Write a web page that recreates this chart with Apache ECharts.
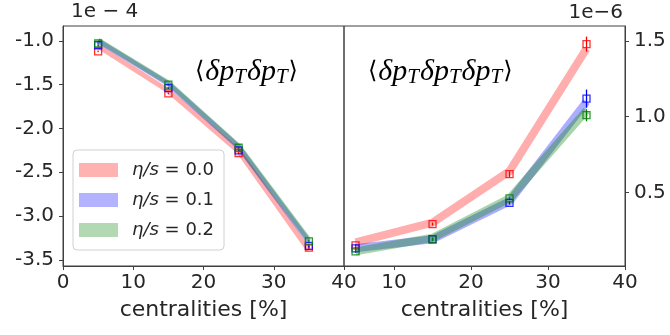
<!DOCTYPE html>
<html><head><meta charset="utf-8">
<script src="https://cdn.jsdelivr.net/npm/echarts@6/dist/echarts.min.js"></script>
<style>html,body{margin:0;padding:0;background:#fff}#c{width:670px;height:335px}</style>
</head><body><div id="c"></div>
<script>
// ---- data ----
const centralities = [5, 15, 25, 35];
const seriesNames = ['η/s = 0.0', 'η/s = 0.1', 'η/s = 0.2'];
const xTicksLeft = [0, 10, 20, 30, 40];
const xTicksRight = [10, 20, 30, 40];
const yTicksLeft = [-3.5, -3.0, -2.5, -2.0, -1.5, -1.0];
const yTicksRight = [0.5, 1.0, 1.5];

// left panel <dpT dpT>, units 1e-4
const leftPoints0 = [-1.12, -1.60, -2.28, -3.36];
const leftPoints1 = [-1.05, -1.54, -2.25, -3.34];
const leftPoints2 = [-1.03, -1.50, -2.22, -3.29];
const leftErr0 = [0.01, 0.01, 0.01, 0.02];
const leftErr1 = [0.01, 0.01, 0.01, 0.02];
const leftErr2 = [0.01, 0.01, 0.01, 0.02];
const leftBand0 = [-1.06, -1.57, -2.26, -3.39];
const leftBand1 = [-1.00, -1.49, -2.21, -3.29];
const leftBand2 = [-0.99, -1.48, -2.20, -3.27];

// right panel <dpT dpT dpT>, units 1e-6
const rightPoints0 = [0.15, 0.29, 0.62, 1.48];
const rightPoints1 = [0.13, 0.19, 0.43, 1.12];
const rightPoints2 = [0.11, 0.19, 0.46, 1.01];
const rightErr0 = [0.01, 0.01, 0.02, 0.05];
const rightErr1 = [0.01, 0.01, 0.01, 0.06];
const rightErr2 = [0.01, 0.01, 0.01, 0.04];
const rightBand0 = [0.17, 0.30, 0.64, 1.45];
const rightBand1 = [0.13, 0.19, 0.44, 1.10];
const rightBand2 = [0.11, 0.20, 0.46, 1.04];

// ---- style ----
const lineColors = ['#ff0000', '#0000ff', '#008000'];
const bandColors = ['rgba(255,0,0,0.32)', 'rgba(0,0,255,0.32)', 'rgba(0,128,0,0.34)'];
const legendColors = ['rgba(255,0,0,0.3)', 'rgba(0,0,255,0.3)', 'rgba(0,128,0,0.3)'];
const textColor = '#262626';
const axisColor = '#404040';

const chart = echarts.init(document.getElementById('c'), null, {renderer: 'canvas'});

function zip(xs, ys) { return xs.map((x, i) => [x, ys[i]]); }
function errData(xs, ys, es) { return xs.map((x, i) => [x, ys[i] - es[i], ys[i] + es[i]]); }

const series = [];
function addPanel(idx, bands, points, errs, bandWidth) {
  for (let k = 0; k < 3; k++) {
    series.push({
      name: seriesNames[k], type: 'line', xAxisIndex: idx, yAxisIndex: idx,
      data: zip(centralities, bands[k]), symbol: 'none', silent: true,
      lineStyle: {color: bandColors[k], width: bandWidth, join: 'round', cap: 'butt'},
      itemStyle: {color: legendColors[k]}, z: 2
    });
  }
  for (let k = 0; k < 3; k++) {
    series.push({
      name: 'err' + idx + k, type: 'custom', xAxisIndex: idx, yAxisIndex: idx,
      data: errData(centralities, points[k], errs[k]), silent: true, z: 3,
      renderItem: function (params, api) {
        const p1 = api.coord([api.value(0), api.value(1)]);
        const p2 = api.coord([api.value(0), api.value(2)]);
        return {type: 'line', shape: {x1: p1[0], y1: p1[1], x2: p2[0], y2: p2[1]},
          style: {stroke: lineColors[k], lineWidth: 1.3}};
      }
    });
    series.push({
      name: 'pts' + idx + k, type: 'scatter', xAxisIndex: idx, yAxisIndex: idx,
      data: zip(centralities, points[k]), symbol: 'rect', symbolSize: 7, silent: true, z: 4,
      itemStyle: {color: 'rgba(255,255,255,0)', borderColor: lineColors[k], borderWidth: 1.3}
    });
  }
}
addPanel(0, [leftBand0, leftBand1, leftBand2], [leftPoints0, leftPoints1, leftPoints2], [leftErr0, leftErr1, leftErr2], 5);
addPanel(1, [rightBand0, rightBand1, rightBand2], [rightPoints0, rightPoints1, rightPoints2], [rightErr0, rightErr1, rightErr2], 8);

const labelFont = {fontFamily: 'DejaVu Sans', fontSize: 20, color: textColor};
function xAxis(idx, min, ticks) {
  return {
    gridIndex: idx, type: 'value', min: min, max: 40,
    axisLine: {show: true, onZero: false, lineStyle: {color: axisColor, width: 1}},
    axisTick: {show: true, inside: false, length: 4, customValues: ticks, lineStyle: {color: axisColor}},
    axisLabel: Object.assign({margin: 7, customValues: ticks, formatter: v => String(v)}, labelFont),
    splitLine: {show: false},
    name: 'centralities [%]', nameLocation: 'middle', nameGap: 33,
    nameTextStyle: {fontFamily: 'DejaVu Sans', fontSize: 22, color: textColor}
  };
}
function yAxis(idx, min, max, ticks, pos) {
  return {
    gridIndex: idx, type: 'value', min: min, max: max, position: pos,
    axisLine: {show: true, onZero: false, lineStyle: {color: axisColor, width: 1}},
    axisTick: {show: true, inside: false, length: 4, customValues: ticks, lineStyle: {color: axisColor}},
    axisLabel: Object.assign({margin: 9, customValues: ticks, formatter: v => v.toFixed(1)}, labelFont),
    splitLine: {show: false}
  };
}

const titleRich = {
  a: {fontFamily: 'DejaVu Serif', fontWeight: 'normal', fontSize: 24, color: '#000', lineHeight: 32, padding: [0, 1, 0, 0]},
  m: {fontFamily: 'Liberation Serif', fontStyle: 'italic', fontWeight: 'normal', fontSize: 30, color: '#000', lineHeight: 32},
  s: {fontFamily: 'Liberation Serif', fontStyle: 'italic', fontWeight: 'normal', fontSize: 21, color: '#000', lineHeight: 14, verticalAlign: 'bottom', padding: [0, 1, 0, 0]}
};

chart.setOption({
  animation: false,
  backgroundColor: '#fff',
  grid: [
    {left: 63, top: 26, width: 281, height: 240, show: true, borderColor: axisColor, borderWidth: 1, backgroundColor: 'transparent', outerBoundsMode: 'none'},
    {left: 344, top: 26, width: 281, height: 240, show: true, borderColor: axisColor, borderWidth: 1, backgroundColor: 'transparent', outerBoundsMode: 'none'}
  ],
  xAxis: [xAxis(0, 0, xTicksLeft), xAxis(1, 3.5, xTicksRight)],
  yAxis: [yAxis(0, -3.57, -0.83, yTicksLeft, 'left'), yAxis(1, 0.013, 1.6, yTicksRight, 'right')],
  title: [
    {text: '{a|⟨}{m|δp}{s|T}{m|δp}{s|T}{a|⟩}', left: 195, top: 56, padding: 0, textStyle: {fontWeight: 'normal', rich: titleRich}},
    {text: '{a|⟨}{m|δp}{s|T}{m|δp}{s|T}{m|δp}{s|T}{a|⟩}', left: 368, top: 56, padding: 0, textStyle: {fontWeight: 'normal', rich: titleRich}}
  ],
  legend: {
    orient: 'vertical', left: 73, top: 150,
    padding: [11, 10, 11, 6], itemGap: 12, itemWidth: 39, itemHeight: 14,
    backgroundColor: 'rgba(255,255,255,0.8)', borderColor: '#d0d0d0', borderWidth: 1, borderRadius: 4,
    selectedMode: false,
    data: seriesNames.map((n, i) => ({name: n, icon: 'rect', itemStyle: {color: legendColors[i], borderColor: legendColors[i], borderWidth: 0}})),
    formatter: n => '{i|η/s}{t| = ' + n.split('= ')[1] + '}',
    textStyle: {
      padding: [0, 0, 0, 9],
      rich: {
        i: {fontFamily: 'DejaVu Sans', fontStyle: 'italic', fontSize: 18, color: textColor, lineHeight: 20},
        t: {fontFamily: 'DejaVu Sans', fontSize: 18, color: textColor, lineHeight: 20}
      }
    }
  },
  graphic: [
    {type: 'text', left: 71, top: 2, style: {text: '1e − 4', font: '20px "DejaVu Sans"', fill: textColor}},
    {type: 'text', right: 47, top: 3, style: {text: '1e−6', font: '20px "DejaVu Sans"', fill: textColor}}
  ],
  series: series
});
</script>
</body></html>
